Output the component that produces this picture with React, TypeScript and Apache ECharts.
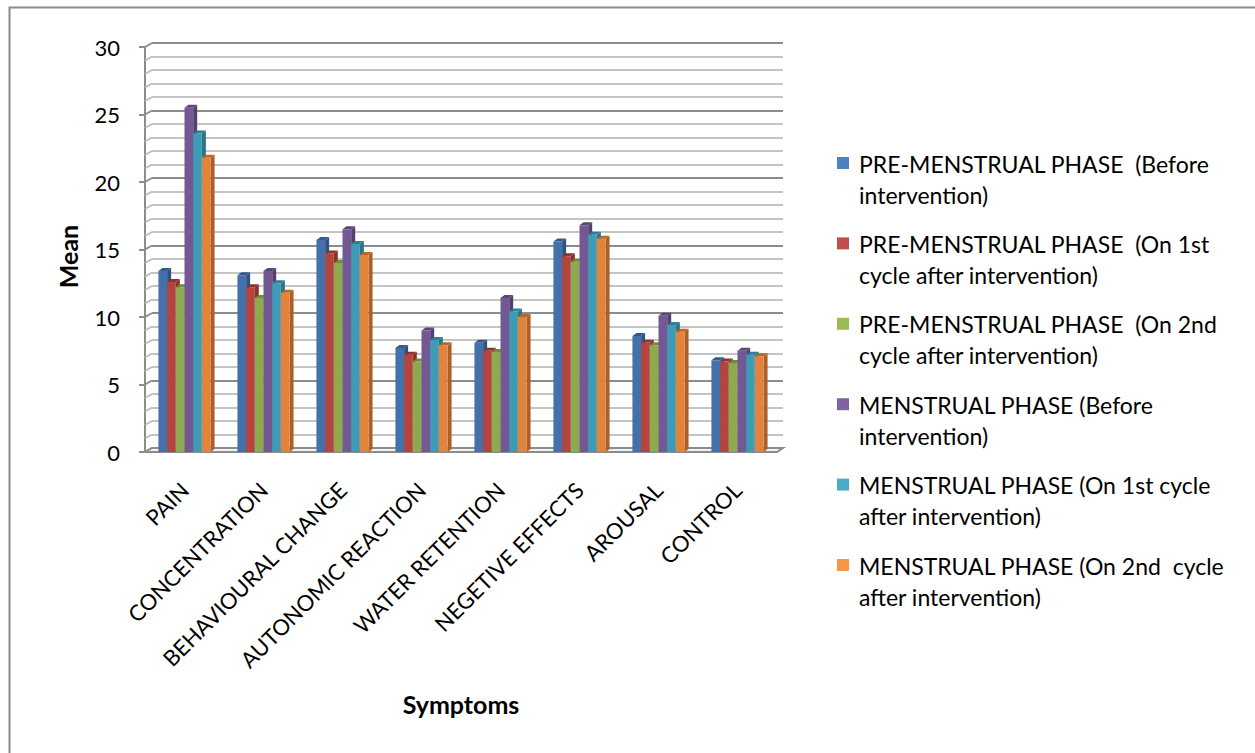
import React, { useEffect, useRef } from "react";
import * as echarts from "echarts";

const categories = [
  "PAIN",
  "CONCENTRATION",
  "BEHAVIOURAL CHANGE",
  "AUTONOMIC REACTION",
  "WATER RETENTION",
  "NEGETIVE EFFECTS",
  "AROUSAL",
  "CONTROL",
];

const seriesNames = [
  "PRE-MENSTRUAL PHASE  (Before intervention)",
  "PRE-MENSTRUAL PHASE  (On 1st cycle after intervention)",
  "PRE-MENSTRUAL PHASE  (On 2nd cycle after intervention)",
  "MENSTRUAL PHASE (Before intervention)",
  "MENSTRUAL PHASE (On 1st cycle after intervention)",
  "MENSTRUAL PHASE (On 2nd  cycle after intervention)",
];

// legend text as wrapped in the chart's legend box
const legendLines = [
  ["PRE-MENSTRUAL PHASE  (Before", "intervention)"],
  ["PRE-MENSTRUAL PHASE  (On 1st", "cycle after intervention)"],
  ["PRE-MENSTRUAL PHASE  (On 2nd", "cycle after intervention)"],
  ["MENSTRUAL PHASE (Before", "intervention)"],
  ["MENSTRUAL PHASE (On 1st cycle", "after intervention)"],
  ["MENSTRUAL PHASE (On 2nd  cycle", "after intervention)"],
];

const preBefore = [13.4, 13.1, 15.7, 7.7, 8.1, 15.6, 8.6, 6.8];
const preCycle1 = [12.6, 12.2, 14.7, 7.2, 7.5, 14.5, 8.1, 6.7];
const preCycle2 = [12.2, 11.4, 14.0, 6.7, 7.4, 14.1, 7.9, 6.6];
const menBefore = [25.5, 13.4, 16.5, 9.0, 11.4, 16.8, 10.1, 7.5];
const menCycle1 = [23.6, 12.5, 15.4, 8.3, 10.4, 16.1, 9.4, 7.2];
const menCycle2 = [21.8, 11.8, 14.6, 7.9, 10.0, 15.8, 8.9, 7.1];

const seriesValues = [preBefore, preCycle1, preCycle2, menBefore, menCycle1, menCycle2];

const yTicks = [0, 5, 10, 15, 20, 25, 30];

// front, side and top face colours of each column group
const faceColors = [
  { front: "#4571AA", side: "#2E5383", top: "#34598A", legend: "#4F81BD" },
  { front: "#B3443F", side: "#87302C", top: "#8F332F", legend: "#C0504D" },
  { front: "#8DAA4F", side: "#6B843A", top: "#728C3E", legend: "#9BBB59" },
  { front: "#735993", side: "#54406F", top: "#5A4576", legend: "#8064A2" },
  { front: "#3F9BB5", side: "#2B7589", top: "#2F7E93", legend: "#4BACC6" },
  { front: "#E2833C", side: "#AC5F26", top: "#B86629", legend: "#F79646" },
];

const FONT = "Lato, 'Noto Sans', sans-serif";
const DEPTH_X = 4;
const DEPTH_Y = 3;
const WALL_X = 7;
const WALL_Y = 4;

export default function App() {
  const ref = useRef<HTMLDivElement>(null);

  useEffect(() => {
    document.body.style.margin = "0";
    const chart = echarts.init(ref.current!, null, { renderer: "svg" });

    const barSeries = seriesValues.map((vals, si) => ({
      type: "custom",
      name: seriesNames[si],
      xAxisIndex: 0,
      yAxisIndex: 0,
      z: 5,
      data: vals.map((v, i) => [i, v]),
      renderItem: (params: any, api: any) => {
        const cat = api.value(0);
        const v = api.value(1);
        const top = api.coord([cat, v]);
        const base = api.coord([cat, 0]);
        const band = api.size([1, 0])[0];
        const w = (band * 0.66) / 6;
        const x = top[0] - 3 * w + si * w;
        const yt = top[1];
        const yb = base[1];
        const c = faceColors[si];
        return {
          type: "group",
          children: [
            {
              type: "polygon",
              shape: {
                points: [
                  [x + w, yt],
                  [x + w + DEPTH_X, yt - DEPTH_Y],
                  [x + w + DEPTH_X, yb - DEPTH_Y],
                  [x + w, yb],
                ],
              },
              style: { fill: c.side },
            },
            {
              type: "polygon",
              shape: {
                points: [
                  [x, yt],
                  [x + DEPTH_X, yt - DEPTH_Y],
                  [x + w + DEPTH_X, yt - DEPTH_Y],
                  [x + w, yt],
                ],
              },
              style: { fill: c.top },
            },
            {
              type: "rect",
              shape: { x, y: yt, width: w, height: yb - yt },
              style: { fill: c.front },
            },
          ],
        };
      },
    }));

    // every gridline step on the value axis (0..30 by 1)
    const gridSteps: number[] = [];
    for (let s = 0; s <= 30; s += 1) gridSteps.push(s);

    const wallConnectors = {
      type: "custom",
      xAxisIndex: 0,
      yAxisIndex: 0,
      z: 1,
      silent: true,
      data: gridSteps.map((s) => [0, s]),
      renderItem: (params: any, api: any) => {
        const y = api.coord([0, api.value(1)])[1];
        const x = params.coordSys.x;
        const major = api.value(1) % 5 === 0;
        return {
          type: "line",
          shape: { x1: x, y1: y, x2: x + WALL_X, y2: y - WALL_Y },
          style: { stroke: major ? "#8c8c8c" : "#bdbdbd", lineWidth: 2 },
        };
      },
    };

    const floor = {
      type: "custom",
      xAxisIndex: 0,
      yAxisIndex: 0,
      z: 2,
      silent: true,
      data: [[0, 0]],
      renderItem: (params: any, api: any) => {
        const y = api.coord([0, 0])[1];
        const x0 = params.coordSys.x;
        const x1 = x0 + params.coordSys.width;
        return {
          type: "polygon",
          shape: {
            points: [
              [x0, y],
              [x1, y],
              [x1 + WALL_X - 1, y - WALL_Y],
              [x0 + WALL_X, y - WALL_Y],
            ],
          },
          style: { fill: "#f2f2f2", stroke: "#8c8c8c", lineWidth: 2 },
        };
      },
    };

    const legendGraphics: any[] = [];
    legendLines.forEach((lines, i) => {
      const y0 = 157 + i * 80.4;
      legendGraphics.push({
        type: "rect",
        left: 837,
        top: y0,
        shape: { width: 12, height: 12 },
        style: { fill: faceColors[i].legend },
      });
      legendGraphics.push({
        type: "text",
        left: 859,
        top: y0 - 9,
        style: {
          text: lines.join("\n"),
          font: `23px ${FONT}`,
          fill: "#000",
          lineHeight: 31,
        },
      });
    });

    chart.setOption({
      animation: false,
      backgroundColor: "#ffffff",
      grid: [
        { left: 145, top: 47, width: 632, height: 405 },
        { left: 145 + WALL_X, top: 47 - WALL_Y, width: 631, height: 405 },
      ],
      xAxis: [
        {
          type: "category",
          gridIndex: 0,
          data: categories,
          axisLine: { show: false },
          axisTick: { show: false },
          splitLine: { show: false },
          axisLabel: {
            rotate: 45,
            margin: 34,
            fontSize: 22,
            fontFamily: FONT,
            color: "#000",
            interval: 0,
            align: "right",
            verticalAlign: "middle",
            padding: [0, 0, 12, 0],
          },
          name: "Symptoms",
          nameLocation: "middle",
          nameGap: 239,
          nameTextStyle: {
            fontSize: 25,
            fontWeight: "bold",
            fontFamily: FONT,
            color: "#000",
          },
        },
        {
          type: "value",
          gridIndex: 1,
          show: true,
          axisLine: { show: false },
          axisTick: { show: false },
          axisLabel: { show: false },
          splitLine: { show: false },
        },
      ],
      yAxis: [
        {
          type: "value",
          gridIndex: 0,
          min: 0,
          max: 30,
          interval: 5,
          axisLine: { show: true, lineStyle: { color: "#8c8c8c", width: 2 } },
          axisTick: { show: true, length: 6, lineStyle: { color: "#8c8c8c", width: 2 } },
          splitLine: { show: false },
          axisLabel: {
            margin: 25,
            fontSize: 22,
            fontFamily: FONT,
            color: "#000",
            customValues: yTicks,
          },
          name: "Mean",
          nameLocation: "middle",
          nameGap: 65,
          nameTextStyle: {
            fontSize: 25,
            fontWeight: "bold",
            fontFamily: FONT,
            color: "#000",
            padding: [0, 14, 0, 0],
          },
        },
        {
          type: "value",
          gridIndex: 1,
          min: 0,
          max: 30,
          interval: 5,
          axisLine: { show: false },
          axisTick: { show: false },
          axisLabel: { show: false },
          splitLine: { show: true, lineStyle: { color: "#8c8c8c", width: 2 } },
          minorTick: { show: false, splitNumber: 5 },
          minorSplitLine: { show: true, lineStyle: { color: "#c4c4c4", width: 2 } },
        },
      ],
      graphic: [
        {
          type: "rect",
          left: 7,
          top: 5,
          shape: { width: 1400, height: 900 },
          style: { fill: "none", stroke: "#8a8a8a", lineWidth: 2 },
          silent: true,
          z: -10,
        },
        ...legendGraphics,
      ],
      series: [wallConnectors, floor, ...barSeries],
    });

    return () => chart.dispose();
  }, []);

  return <div ref={ref} style={{ width: 1255, height: 753 }} />;
}
